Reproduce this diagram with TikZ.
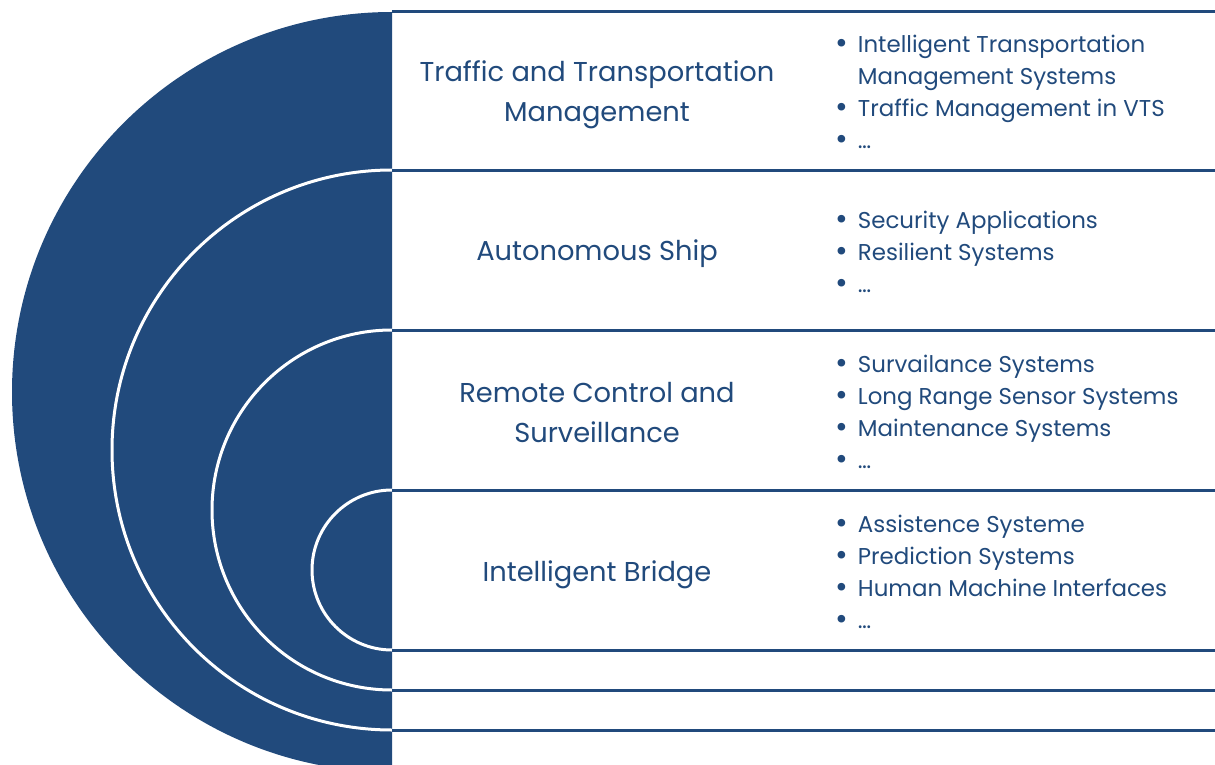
\documentclass[tikz,border=0pt]{standalone}
\usepackage{fontspec}
\setmainfont{Poppins}

\definecolor{navy}{RGB}{33,74,124}

\tikzset{
  titel/.style={text=navy, font=\fontsize{27.3}{40}\selectfont, align=center},
  liste/.style={text=navy, font=\fontsize{22.9}{32}\selectfont, anchor=west, inner sep=0pt},
  trait/.style={navy, line width=3pt},
  bogen/.style={white, line width=3pt}
}

\newcommand{\punkt}{\raisebox{-0.12ex}{\scalebox{1.35}{\textbullet}}}

\begin{document}
\begin{tikzpicture}[x=1pt,y=-1pt]
\useasboundingbox (0,0) rectangle (1215,765);

% --- Halbkreise ---
\begin{scope}
\clip (0,0) rectangle (392,765);
\fill[navy] (392,392) circle[radius=380];
\draw[bogen] (392,450) circle[radius=280];
\draw[bogen] (392,510) circle[radius=180];
\draw[bogen] (392,570) circle[radius=80];
\end{scope}

% --- Linien ---
\foreach \y in {12,170,330,490,650,690,730}
  \draw[trait] (392,\y) -- (1215,\y);

% --- Titel ---
\node[titel] (t1) at (597,95) {Traffic and Transportation\\Management};
\node[titel] (t2) at (597,254) {Autonomous Ship};
\node[titel] (t3) at (597,413) {Remote Control and\\Surveillance};
\node[titel] (t4) at (597,575) {Intelligent Bridge};

% --- Listen ---
\node[liste] (l1) at (835,94) {\begin{tabular}{@{}l@{\hspace{10pt}}l@{}}
\punkt & Intelligent Transportation\\
 & Management Systems\\
\punkt & Traffic Management in VTS\\
\punkt & \dots
\end{tabular}};

\node[liste] (l2) at (835,254) {\begin{tabular}{@{}l@{\hspace{10pt}}l@{}}
\punkt & Security Applications\\
\punkt & Resilient Systems\\
\punkt & \dots
\end{tabular}};

\node[liste] (l3) at (835,414) {\begin{tabular}{@{}l@{\hspace{10pt}}l@{}}
\punkt & Survailance Systems\\
\punkt & Long Range Sensor Systems\\
\punkt & Maintenance Systems\\
\punkt & \dots
\end{tabular}};

\node[liste] (l4) at (835,574) {\begin{tabular}{@{}l@{\hspace{10pt}}l@{}}
\punkt & Assistence Systeme\\
\punkt & Prediction Systems\\
\punkt & Human Machine Interfaces\\
\punkt & \dots
\end{tabular}};

\end{tikzpicture}
\end{document}
